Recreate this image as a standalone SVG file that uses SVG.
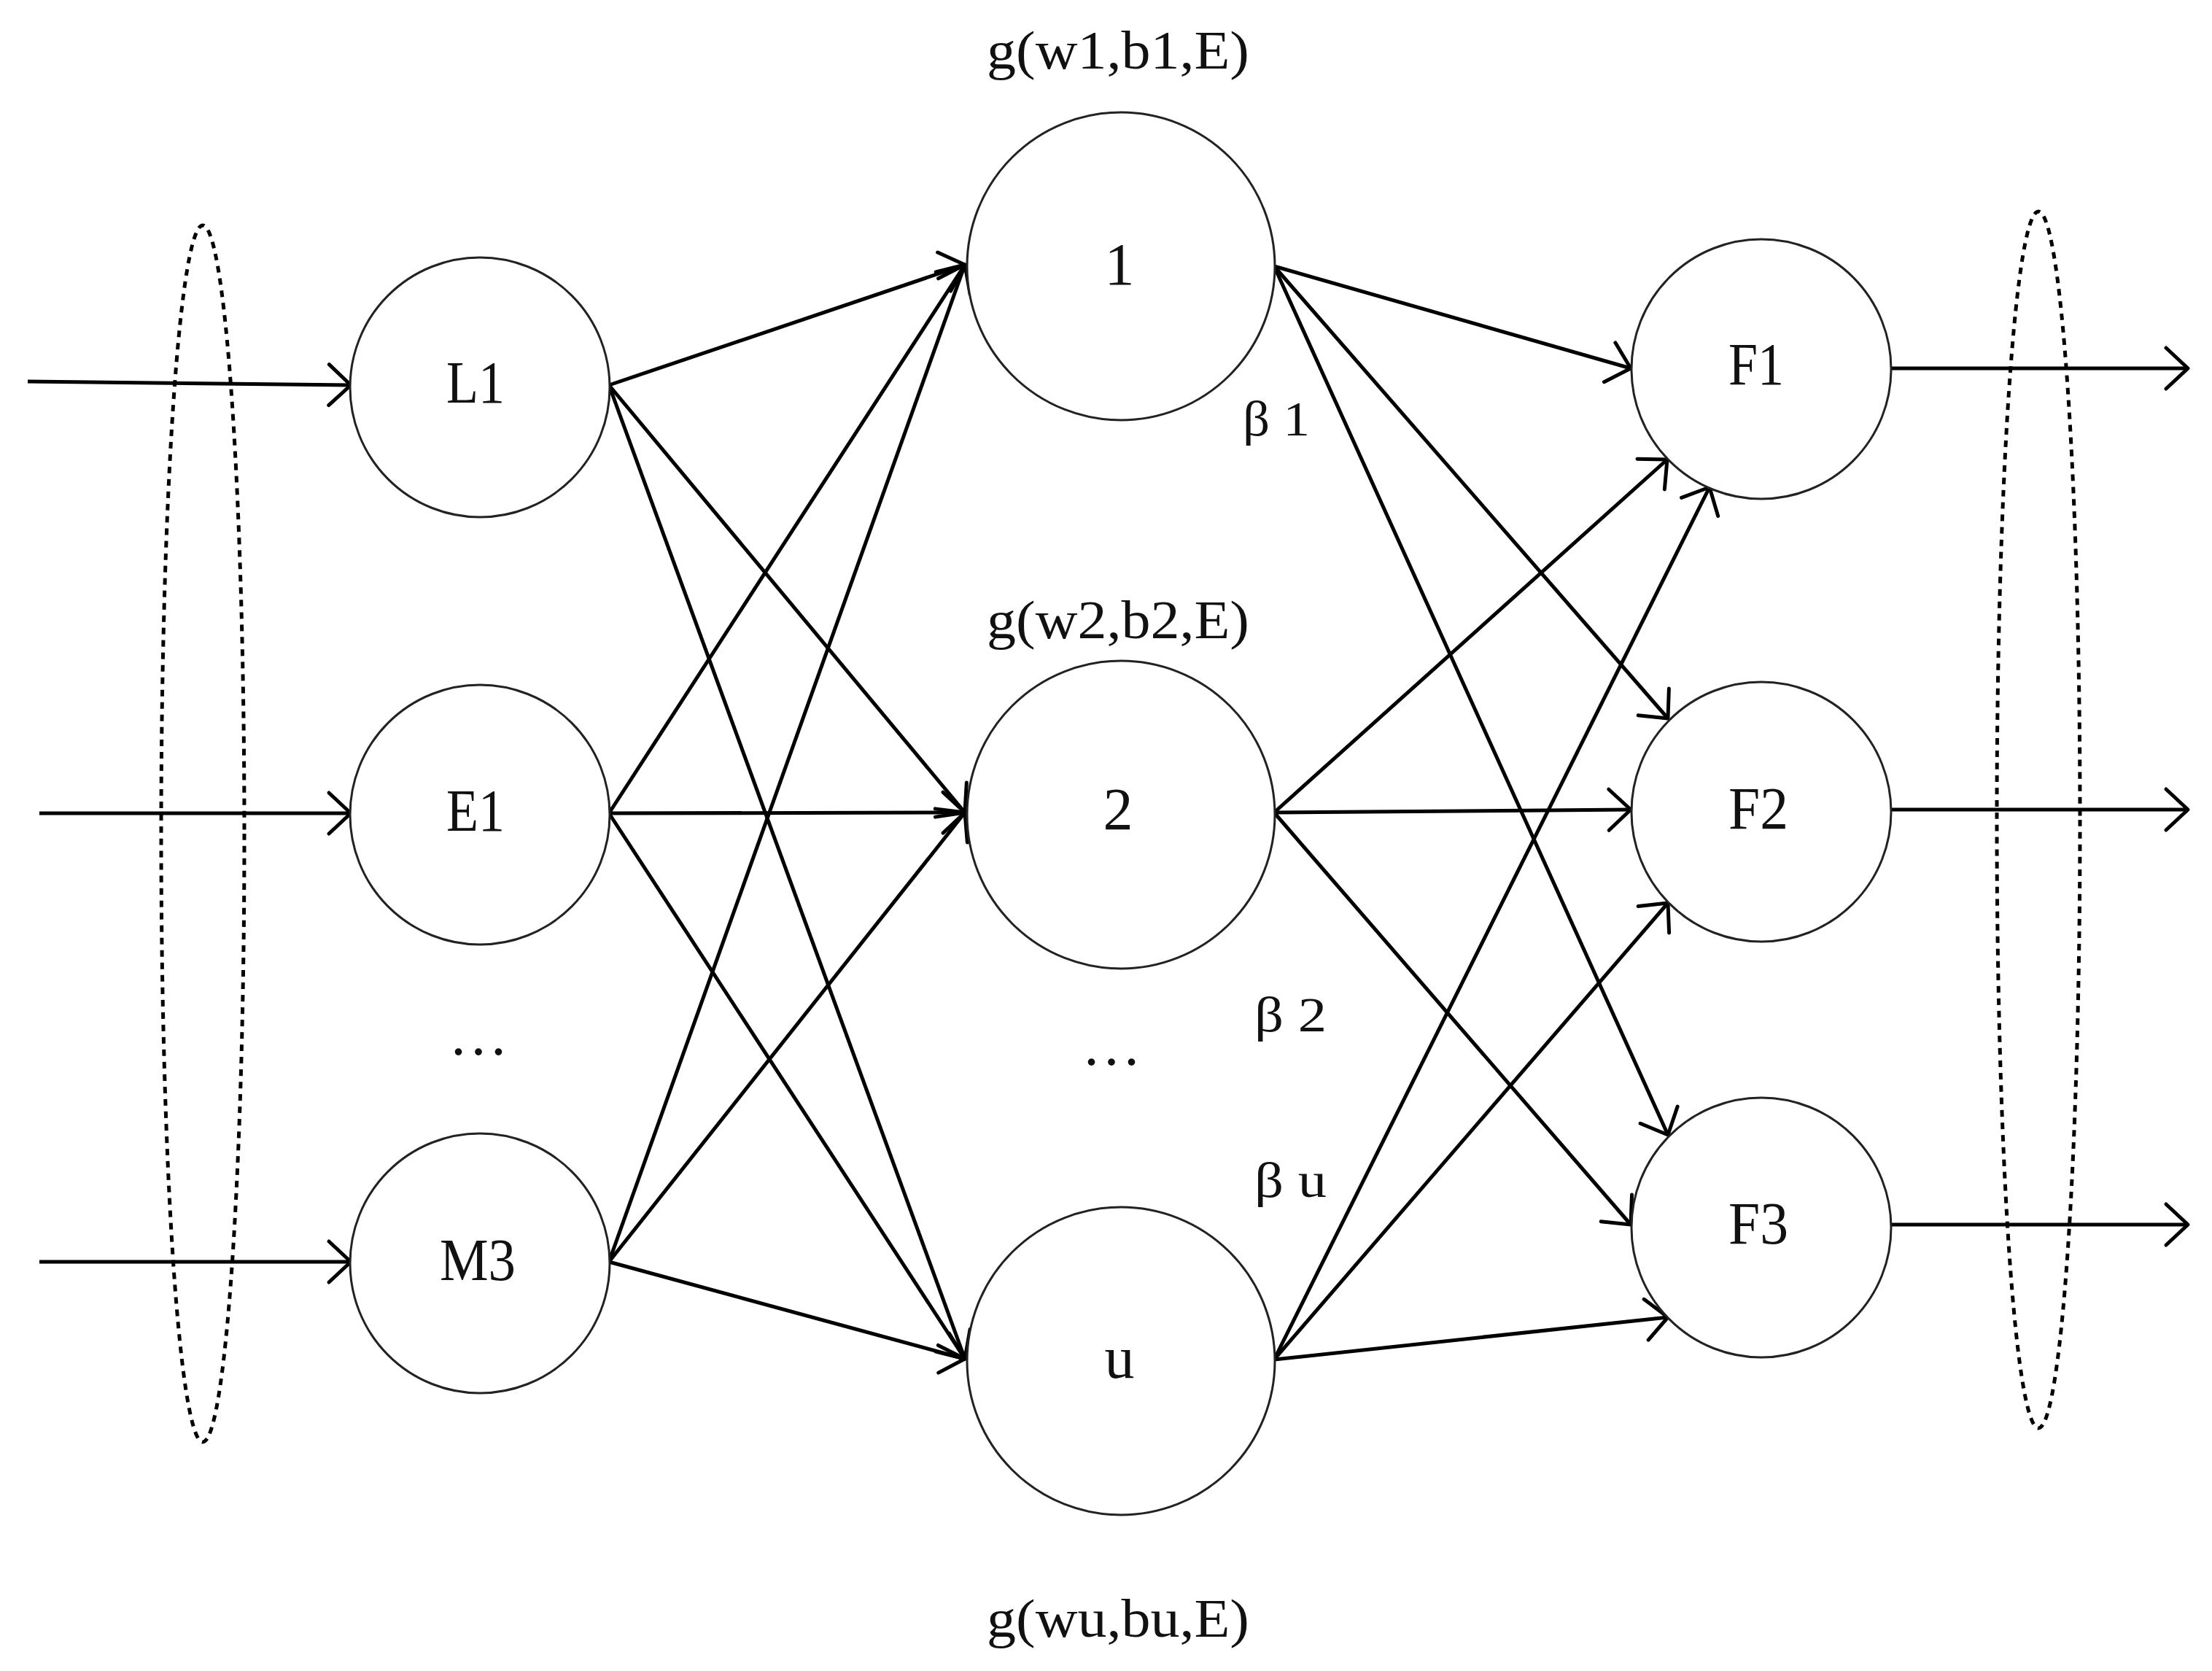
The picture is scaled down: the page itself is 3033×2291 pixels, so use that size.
<svg xmlns="http://www.w3.org/2000/svg" width="3033" height="2291" viewBox="0 0 3033 2291">
<style>
.node{fill:#fff;stroke:#222;stroke-width:3}
.lbl{font-family:"Liberation Serif","Times New Roman",serif;font-size:82px;fill:#111;text-anchor:middle}
.ttl{font-family:"Liberation Serif","Times New Roman",serif;font-size:75px;fill:#111;text-anchor:middle}
.beta{font-family:"Liberation Serif","Times New Roman",serif;font-size:68px;fill:#111}
.edge{stroke:#000;stroke-width:5;fill:none;marker-end:url(#arr)}
.group{fill:none;stroke:#000;stroke-width:5;stroke-dasharray:9 8}
</style>
<defs>
<marker id="arr" markerUnits="userSpaceOnUse" markerWidth="80" markerHeight="80" viewBox="-40 -40 80 80" refX="0" refY="0" orient="auto" overflow="visible">
<path d="M-30,-28 L0,0 L-30,28" fill="none" stroke="#000" stroke-width="5" stroke-linecap="round" stroke-linejoin="round"/>
</marker>
</defs>
<rect width="3033" height="2291" fill="#fff"/>

<g id="input-group">
<ellipse class="group" cx="278" cy="1143" rx="57" ry="834"/>
</g>
<g id="output-group">
<ellipse class="group" cx="2795" cy="1124" rx="57" ry="834"/>
</g>

<g id="connectors">
<line class="edge" x1="38" y1="523" x2="481" y2="528"/>
<line class="edge" x1="54" y1="1115" x2="481" y2="1115"/>
<line class="edge" x1="54" y1="1730" x2="481" y2="1730"/>

<line class="edge" x1="835" y1="528" x2="1323" y2="363"/>
<line class="edge" x1="835" y1="528" x2="1323" y2="1114"/>
<line class="edge" x1="835" y1="528" x2="1323" y2="1863"/>
<line class="edge" x1="835" y1="1115" x2="1323" y2="363"/>
<line class="edge" x1="835" y1="1115" x2="1323" y2="1114"/>
<line class="edge" x1="835" y1="1115" x2="1323" y2="1863"/>
<line class="edge" x1="835" y1="1730" x2="1323" y2="363"/>
<line class="edge" x1="835" y1="1730" x2="1323" y2="1114"/>
<line class="edge" x1="835" y1="1730" x2="1323" y2="1863"/>

<line class="edge" x1="1747" y1="365" x2="2236" y2="505"/>
<line class="edge" x1="1747" y1="365" x2="2287" y2="985"/>
<line class="edge" x1="1747" y1="365" x2="2287" y2="1556"/>
<line class="edge" x1="1747" y1="1114" x2="2286" y2="630"/>
<line class="edge" x1="1747" y1="1114" x2="2236" y2="1110"/>
<line class="edge" x1="1747" y1="1114" x2="2236" y2="1679"/>
<line class="edge" x1="1747" y1="1864" x2="2344" y2="668"/>
<line class="edge" x1="1747" y1="1864" x2="2287" y2="1238"/>
<line class="edge" x1="1747" y1="1864" x2="2287" y2="1806"/>

<line class="edge" x1="2590" y1="505" x2="3000" y2="505"/>
<line class="edge" x1="2590" y1="1110" x2="3000" y2="1110"/>
<line class="edge" x1="2590" y1="1679" x2="3000" y2="1679"/>
</g>

<g id="node-L1">
<circle class="node" cx="658" cy="531" r="178"/>
<text class="lbl" x="652" y="552" textLength="80" lengthAdjust="spacingAndGlyphs">L1</text>
</g>
<g id="node-E1">
<circle class="node" cx="658" cy="1117" r="178"/>
<text class="lbl" x="652" y="1139" textLength="80" lengthAdjust="spacingAndGlyphs">E1</text>
</g>
<g id="node-dots-left">
<text class="lbl" x="656" y="1446">…</text>
</g>
<g id="node-M3">
<circle class="node" cx="658" cy="1732" r="178"/>
<text class="lbl" x="655" y="1755" textLength="104" lengthAdjust="spacingAndGlyphs">M3</text>
</g>

<g id="node-h1">
<text class="ttl" x="1533" y="94" textLength="360" lengthAdjust="spacingAndGlyphs">g(w1,b1,E)</text>
<circle class="node" cx="1537" cy="365" r="211"/>
<text class="lbl" x="1535" y="390">1</text>
</g>
<g id="node-h2">
<text class="ttl" x="1533" y="875" textLength="360" lengthAdjust="spacingAndGlyphs">g(w2,b2,E)</text>
<circle class="node" cx="1537" cy="1117" r="211"/>
<text class="lbl" x="1533" y="1137">2</text>
</g>
<g id="node-dots-mid">
<text class="lbl" x="1524" y="1460">…</text>
</g>
<g id="node-hu">
<circle class="node" cx="1537" cy="1866" r="211"/>
<text class="lbl" x="1535" y="1889">u</text>
<text class="ttl" x="1533" y="2244" textLength="360" lengthAdjust="spacingAndGlyphs">g(wu,bu,E)</text>
</g>

<g id="beta-labels">
<text class="beta" x="1704" y="597" textLength="92" lengthAdjust="spacingAndGlyphs">β 1</text>
<text class="beta" x="1720" y="1414" textLength="99" lengthAdjust="spacingAndGlyphs">β 2</text>
<text class="beta" x="1720" y="1641" textLength="99" lengthAdjust="spacingAndGlyphs">β u</text>
</g>

<g id="node-F1">
<circle class="node" cx="2415" cy="506" r="178"/>
<text class="lbl" x="2408" y="527" textLength="76" lengthAdjust="spacingAndGlyphs">F1</text>
</g>
<g id="node-F2">
<circle class="node" cx="2415" cy="1113" r="178"/>
<text class="lbl" x="2411" y="1136" textLength="82" lengthAdjust="spacingAndGlyphs">F2</text>
</g>
<g id="node-F3">
<circle class="node" cx="2415" cy="1683" r="178"/>
<text class="lbl" x="2411" y="1705" textLength="82" lengthAdjust="spacingAndGlyphs">F3</text>
</g>
</svg>
